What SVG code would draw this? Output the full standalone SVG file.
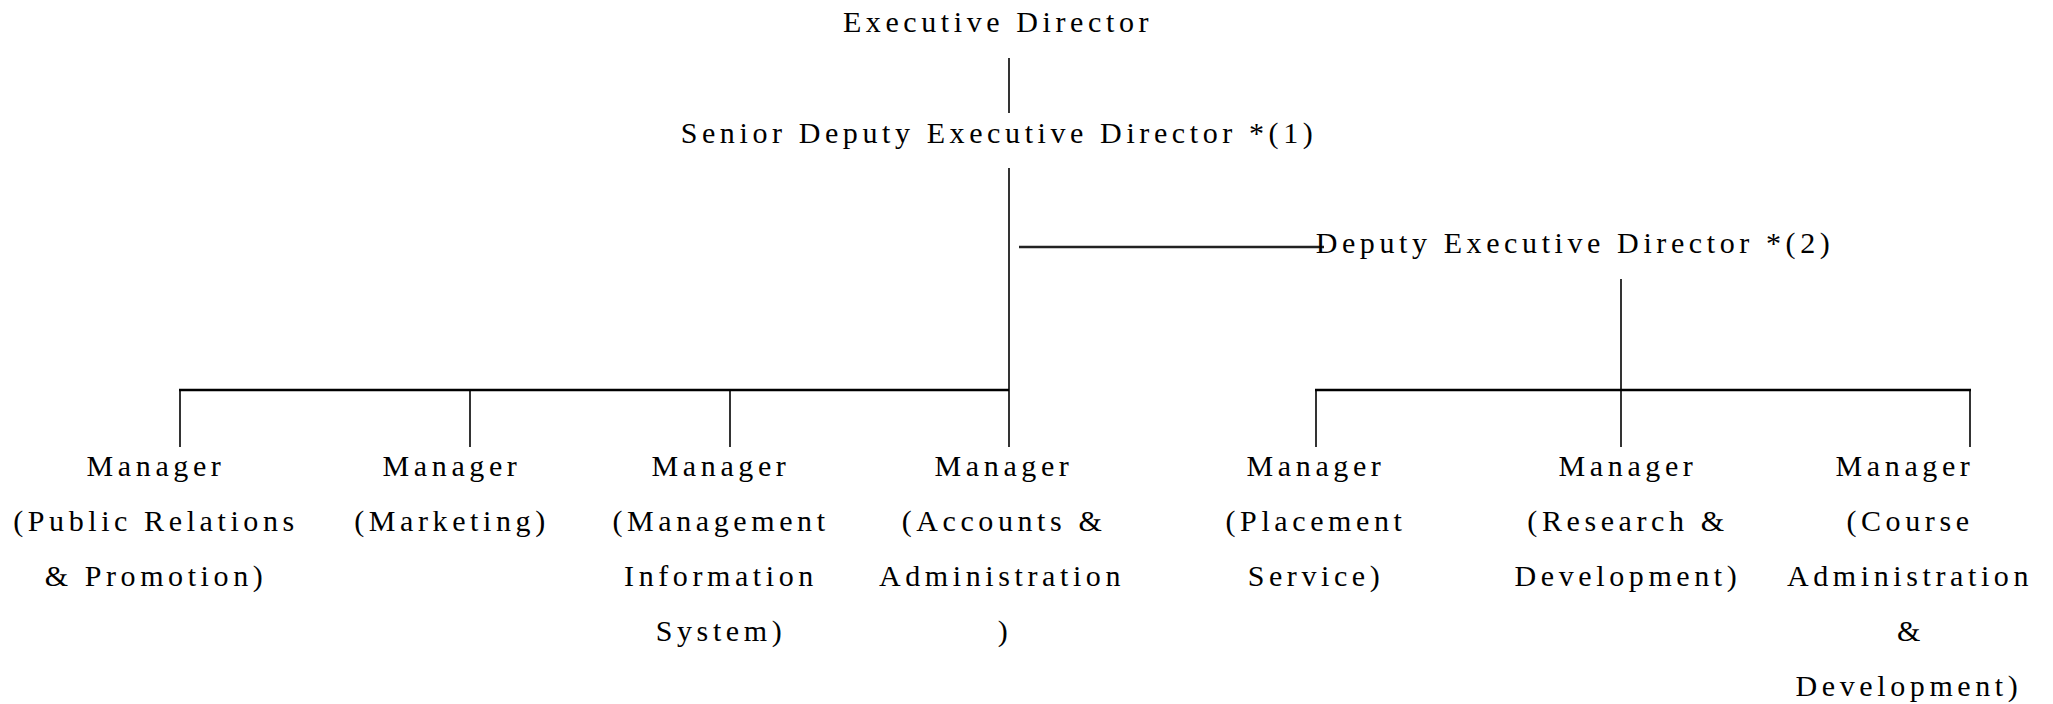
<svg xmlns="http://www.w3.org/2000/svg" width="2053" height="704" viewBox="0 0 2053 704">
<style>
text{font-family:"Liberation Serif","Times New Roman",serif;font-size:30px;letter-spacing:4.6px;fill:#000;text-anchor:middle}
.v{stroke:#000;stroke-width:1.6;fill:none}
.h{stroke:#000;stroke-width:2.6;fill:none}
.d{stroke:#222;stroke-width:2.6;fill:none}
</style>
<rect width="2053" height="704" fill="#fff"/>
<g id="connectors">
<line class="v" x1="1009" y1="58" x2="1009" y2="113"/>
<line class="v" x1="1009" y1="168" x2="1009" y2="447"/>
<line class="d" x1="1019" y1="247" x2="1324" y2="247"/>
<line class="h" x1="179" y1="390" x2="1009" y2="390"/>
<line class="v" x1="180" y1="390" x2="180" y2="447"/>
<line class="v" x1="470" y1="390" x2="470" y2="447"/>
<line class="v" x1="730" y1="390" x2="730" y2="447"/>
<line class="v" x1="1621" y1="279" x2="1621" y2="447"/>
<line class="h" x1="1315" y1="390" x2="1971" y2="390"/>
<line class="v" x1="1316" y1="390" x2="1316" y2="447"/>
<line class="v" x1="1970" y1="390" x2="1970" y2="447"/>
</g>
<g id="executive-director"><text x="998" y="32">Executive Director</text></g>
<g id="senior-deputy"><text x="999" y="143">Senior Deputy Executive Director *(1)</text></g>
<g id="deputy"><text x="1575" y="253">Deputy Executive Director *(2)</text></g>
<g id="mgr-pr">
<text x="156" y="476">Manager</text>
<text x="156" y="531">(Public Relations</text>
<text x="156" y="586">&amp; Promotion)</text>
</g>
<g id="mgr-marketing">
<text x="452" y="476">Manager</text>
<text x="452" y="531">(Marketing)</text>
</g>
<g id="mgr-mis">
<text x="721" y="476">Manager</text>
<text x="721" y="531">(Management</text>
<text x="721" y="586">Information</text>
<text x="721" y="641">System)</text>
</g>
<g id="mgr-accounts">
<text x="1004" y="476">Manager</text>
<text x="1004" y="531">(Accounts &amp;</text>
<text x="1002" y="586">Administration</text>
<text x="1005" y="641">)</text>
</g>
<g id="mgr-placement">
<text x="1316" y="476">Manager</text>
<text x="1316" y="531">(Placement</text>
<text x="1316" y="586">Service)</text>
</g>
<g id="mgr-rd">
<text x="1628" y="476">Manager</text>
<text x="1628" y="531">(Research &amp;</text>
<text x="1628" y="586">Development)</text>
</g>
<g id="mgr-course">
<text x="1905" y="476">Manager</text>
<text x="1910" y="531">(Course</text>
<text x="1910" y="586">Administration</text>
<text x="1911" y="641">&amp;</text>
<text x="1909" y="696">Development)</text>
</g>
</svg>
